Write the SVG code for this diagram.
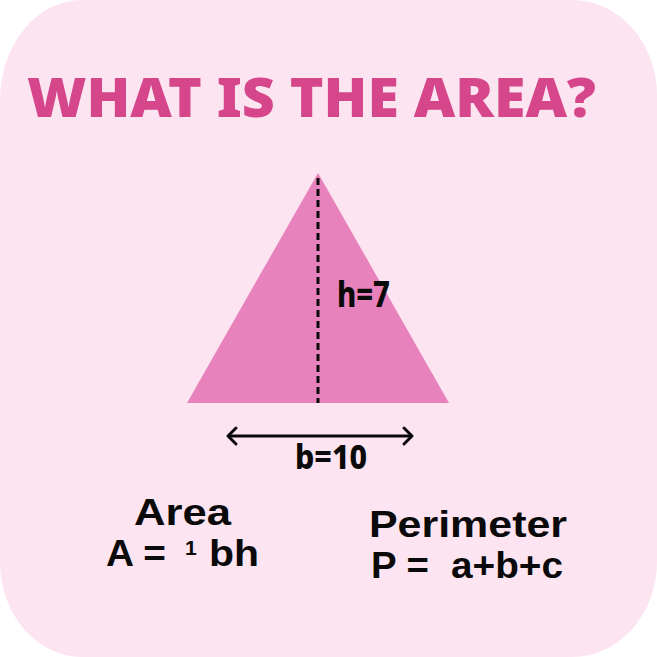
<svg xmlns="http://www.w3.org/2000/svg" width="657" height="657" viewBox="0 0 657 657">
<style>
.t{font-family:"Noto Sans","DejaVu Sans",sans-serif;font-weight:800;fill:#0a0a0a}
.f{font-family:"Liberation Sans",Arial,sans-serif;font-weight:bold;fill:#0a0a0a}
</style>
<g id="background">
<path d="M82,0 H572 A85,95 0 0 1 657,95 V562 A85,95 0 0 1 572,657 H82 A82,95 0 0 1 0,562 V100 A82,100 0 0 1 82,0 Z" fill="#FCE4F0"/>
</g>
<g id="title">
<text x="27" y="117" font-family="'Noto Sans','DejaVu Sans',sans-serif" font-weight="900" font-size="54" fill="#D5468B" textLength="569" lengthAdjust="spacingAndGlyphs">WHAT IS THE AREA?</text>
</g>
<g id="triangle">
<polygon points="318,173 187,403 449,403" fill="#E882BC"/>
<text class="t" x="337" y="307" font-size="35" textLength="53" lengthAdjust="spacingAndGlyphs">h=7</text>
</g>
<g id="connectors">
<line x1="318" y1="178" x2="318" y2="403" stroke="#0a0a0a" stroke-width="3" stroke-dasharray="7,4"/>
<line x1="228" y1="436" x2="412" y2="436" stroke="#0a0a0a" stroke-width="3"/>
<polyline points="236,428 228,436 236,444" fill="none" stroke="#0a0a0a" stroke-width="3" stroke-linecap="round" stroke-linejoin="round"/>
<polyline points="404,428 412,436 404,444" fill="none" stroke="#0a0a0a" stroke-width="3" stroke-linecap="round" stroke-linejoin="round"/>
</g>
<g id="base-label">
<text class="t" x="295" y="469" font-size="34" textLength="72" lengthAdjust="spacingAndGlyphs">b=10</text>
</g>
<g id="area">
<text class="f" x="134" y="525" font-size="37" textLength="97" lengthAdjust="spacingAndGlyphs">Area</text>
<text class="f" x="106" y="566" font-size="37" textLength="60" lengthAdjust="spacingAndGlyphs">A =</text>
<text class="f" x="185" y="555" font-size="21">1</text>
<text class="f" x="209" y="566" font-size="37" textLength="50" lengthAdjust="spacingAndGlyphs">bh</text>
</g>
<g id="perimeter">
<text class="f" x="369" y="537" font-size="37" textLength="198" lengthAdjust="spacingAndGlyphs">Perimeter</text>
<text class="f" x="371" y="578" font-size="37" textLength="58" lengthAdjust="spacingAndGlyphs">P =</text>
<text class="f" x="451" y="578" font-size="37" textLength="112" lengthAdjust="spacingAndGlyphs">a+b+c</text>
</g>
</svg>
